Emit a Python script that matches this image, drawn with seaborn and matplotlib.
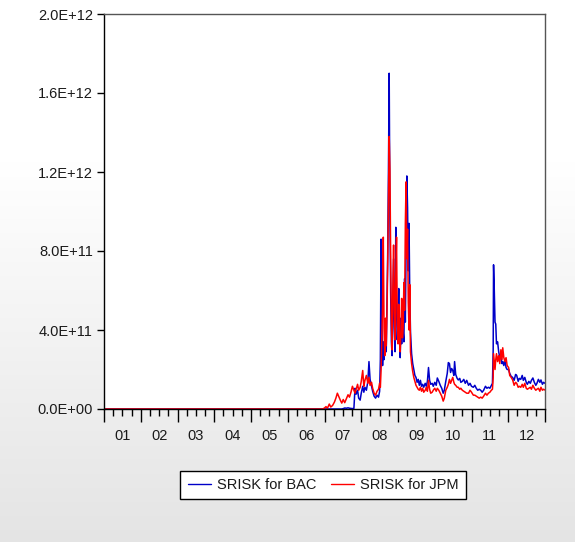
import numpy as np
import pandas as pd
import matplotlib
matplotlib.use("Agg")
import matplotlib.pyplot as plt
import seaborn as sns
from matplotlib import font_manager as fm
from matplotlib.lines import Line2D
from matplotlib.ticker import FixedLocator, NullFormatter
import matplotlib.transforms as mtransforms

# ---------------- data (values in units of 1e11) ----------------
dates = [
    2001.00, 2006.95, 2007.00, 2007.04, 2007.08, 2007.13, 2007.17, 2007.22, 2007.27, 2007.31,
    2007.35, 2007.39, 2007.43, 2007.47, 2007.51, 2007.55, 2007.60, 2007.64, 2007.68, 2007.72,
    2007.76, 2007.80, 2007.83, 2007.86, 2007.90, 2007.93, 2007.97, 2008.00, 2008.04, 2008.07,
    2008.10, 2008.14, 2008.18, 2008.21, 2008.24, 2008.28, 2008.31, 2008.35, 2008.39, 2008.43,
    2008.47, 2008.50, 2008.52, 2008.54, 2008.56, 2008.58, 2008.60, 2008.62, 2008.64, 2008.66,
    2008.68, 2008.70, 2008.72, 2008.74, 2008.76, 2008.78, 2008.80, 2008.82, 2008.84, 2008.86,
    2008.88, 2008.90, 2008.92, 2008.94, 2008.96, 2008.98, 2009.00, 2009.02, 2009.04, 2009.06,
    2009.08, 2009.10, 2009.12, 2009.14, 2009.16, 2009.18, 2009.20, 2009.22, 2009.24, 2009.26,
    2009.28, 2009.30, 2009.32, 2009.34, 2009.37, 2009.40, 2009.43, 2009.46, 2009.49, 2009.52,
    2009.55, 2009.58, 2009.61, 2009.64, 2009.67, 2009.70, 2009.74, 2009.77, 2009.80, 2009.83,
    2009.86, 2009.89, 2009.93, 2009.96, 2010.00, 2010.04, 2010.07, 2010.11, 2010.15, 2010.19,
    2010.23, 2010.26, 2010.30, 2010.34, 2010.37, 2010.40, 2010.43, 2010.46, 2010.49, 2010.52,
    2010.54, 2010.57, 2010.61, 2010.64, 2010.68, 2010.71, 2010.75, 2010.79, 2010.83, 2010.87,
    2010.92, 2010.96, 2011.00, 2011.05, 2011.09, 2011.13, 2011.17, 2011.21, 2011.25, 2011.29,
    2011.33, 2011.38, 2011.42, 2011.46, 2011.50, 2011.54, 2011.57, 2011.59, 2011.60, 2011.62,
    2011.64, 2011.66, 2011.68, 2011.71, 2011.74, 2011.77, 2011.80, 2011.83, 2011.85, 2011.88,
    2011.91, 2011.94, 2011.97, 2012.01, 2012.04, 2012.08, 2012.12, 2012.16, 2012.20, 2012.23,
    2012.27, 2012.30, 2012.34, 2012.38, 2012.41, 2012.45, 2012.49, 2012.52, 2012.56, 2012.60,
    2012.63, 2012.67, 2012.71, 2012.75, 2012.78, 2012.82, 2012.86, 2012.89, 2012.93, 2012.96,
    2013.00,
]

srisk_bac = [
    0, 0, 0, 0, 0, 0, 0, 0, 0, 0,
    0, 0, 0, 0, 0.02, 0.05, 0.04, 0.06, 0.04, 0.03,
    0.02, 0.03, 1.05, 0.75, 0.95, 0.55, 0.45, 0.80, 1.15, 0.85,
    1.10, 0.95, 1.40, 2.40, 1.50, 1.15, 0.90, 0.65, 0.55, 0.70,
    0.60, 0.90, 2.50, 8.60, 4.60, 2.20, 3.40, 2.50, 3.10, 4.20,
    2.90, 5.40, 7.90, 12.0, 17.0, 9.80, 5.90, 3.40, 2.70, 5.30,
    7.60, 4.10, 2.90, 9.20, 5.10, 3.50, 4.30, 6.10, 3.70, 2.60,
    4.60, 3.30, 5.40, 3.90, 3.40, 6.60, 4.40, 8.10, 11.8, 10.2,
    7.00, 9.40, 5.80, 3.90, 2.80, 2.30, 2.00, 1.70, 1.60, 1.35,
    1.50, 1.20, 1.45, 1.15, 1.25, 1.10, 1.30, 1.15, 1.40, 2.10,
    1.45, 1.25, 1.30, 1.15, 1.35, 1.20, 1.57, 1.40, 1.20, 1.05,
    0.80, 0.95, 1.40, 1.80, 2.35, 2.30, 1.85, 2.05, 1.95, 1.70,
    2.40, 1.75, 1.55, 1.47, 1.55, 1.35, 1.40, 1.50, 1.30, 1.45,
    1.20, 1.30, 1.15, 1.10, 1.20, 1.05, 0.95, 1.00, 0.95, 0.85,
    0.95, 1.15, 1.05, 1.10, 1.05, 1.20, 1.30, 3.00, 7.30, 6.00,
    4.40, 4.30, 3.30, 3.40, 2.90, 2.60, 2.60, 2.30, 2.40, 2.20,
    2.50, 2.10, 2.00, 2.00, 1.80, 1.65, 1.60, 1.45, 1.75, 1.70,
    1.40, 1.55, 1.50, 1.70, 1.45, 1.60, 1.35, 1.25, 1.40, 1.30,
    1.45, 1.57, 1.35, 1.20, 1.30, 1.50, 1.35, 1.47, 1.25, 1.35,
    1.30,
]

srisk_jpm = [
    0, 0, 0.05, 0.12, 0.04, 0.25, 0.10, 0.18, 0.35, 0.55,
    0.80, 0.62, 0.45, 0.30, 0.48, 0.32, 0.55, 0.72, 0.60, 0.85,
    1.15, 0.95, 0.80, 1.00, 1.25, 0.95, 1.10, 1.40, 1.95, 1.15,
    1.45, 1.70, 1.30, 1.60, 1.20, 1.35, 1.05, 0.80, 0.70, 0.90,
    1.00, 1.30, 1.10, 2.00, 3.60, 5.20, 8.70, 4.10, 2.70, 4.60,
    3.20, 4.90, 7.30, 10.5, 13.8, 12.1, 7.80, 4.40, 3.00, 6.10,
    8.30, 5.00, 3.50, 6.80, 8.70, 4.40, 3.30, 5.30, 3.40, 2.90,
    4.00, 5.60, 3.60, 4.10, 6.40, 5.00, 9.40, 11.5, 7.60, 9.10,
    5.40, 4.00, 6.30, 2.90, 2.30, 1.90, 1.60, 1.40, 1.20, 1.10,
    1.00, 0.95, 1.10, 0.90, 1.05, 0.85, 0.95, 1.10, 0.90, 1.45,
    1.00, 0.80, 0.85, 0.95, 1.05, 0.90, 1.05, 0.95, 0.80, 0.65,
    0.40, 0.55, 0.95, 1.10, 1.25, 1.50, 1.30, 1.45, 1.60, 1.35,
    1.25, 1.20, 1.10, 1.10, 1.00, 1.05, 0.95, 0.90, 0.85, 0.80,
    0.80, 0.95, 0.85, 0.70, 0.70, 0.65, 0.60, 0.55, 0.60, 0.55,
    0.65, 0.80, 0.70, 0.80, 0.85, 0.95, 1.00, 1.60, 2.80, 2.40,
    2.00, 2.50, 2.80, 2.40, 2.70, 2.30, 3.00, 2.50, 3.10, 2.60,
    2.40, 2.60, 2.20, 2.10, 1.70, 1.60, 1.47, 1.20, 1.35, 1.30,
    1.10, 1.15, 1.10, 1.25, 1.10, 1.30, 1.05, 1.00, 1.05, 1.10,
    1.00, 1.20, 1.05, 0.95, 1.00, 1.05, 0.90, 1.10, 0.95, 1.00,
    0.96,
]

series_names = ["SRISK for BAC", "SRISK for JPM"]
series_colors = ["#0000c8", "#ff0000"]
ytick_values = [0.0, 4.0e11, 8.0e11, 1.2e12, 1.6e12, 2.0e12]
ytick_labels = ["0.0E+00", "4.0E+11", "8.0E+11", "1.2E+12", "1.6E+12", "2.0E+12"]
year_starts = list(range(2001, 2014))
xtick_labels = ["01", "02", "03", "04", "05", "06", "07", "08", "09", "10", "11", "12"]

# ---------------- style / fonts ----------------
sns.set_style("ticks")


def has_font(name):
    try:
        fm.findfont(fm.FontProperties(family=name), fallback_to_default=False)
        return True
    except Exception:
        return False


if has_font("Liberation Sans Narrow"):
    fam, fs = "Liberation Sans Narrow", 12
else:
    fam, fs = "Liberation Sans", 10.5
plt.rcParams["font.family"] = [fam, "DejaVu Sans"]

W, H = 575, 542
fig = plt.figure(figsize=(W / 100, H / 100), dpi=100)

# background gradient (white top -> light grey bottom)
bg = fig.add_axes([0, 0, 1, 1], zorder=-10)
rows = np.linspace(0, 1, 300)
shade = np.where(rows < 0.3, 1.0, 1.0 - (rows - 0.3) / 0.7 * 0.105)
grad = np.dstack([shade, shade, shade]).reshape(300, 1, 3)
grad = np.repeat(grad, 2, axis=1)
bg.imshow(grad, aspect="auto", extent=[0, 1, 0, 1], origin="upper")
bg.set_axis_off()

# main axes
L, R, T, B = 104, 545, 14, 409
ax = fig.add_axes([L / W, 1 - B / H, (R - L) / W, (B - T) / H])
ax.set_facecolor("white")

n = len(dates)
df = pd.DataFrame({
    "date": dates * 2,
    "value": np.array(srisk_bac + srisk_jpm, dtype=float) * 1e11,
    "series": [series_names[0]] * n + [series_names[1]] * n,
})
sns.lineplot(data=df, x="date", y="value", hue="series", hue_order=series_names,
             palette=dict(zip(series_names, series_colors)), estimator=None,
             linewidth=1.1, ax=ax, legend=False)

ax.set_xlim(2001, 2013)
ax.set_ylim(0, 2.0e12)
ax.set_xlabel("")
ax.set_ylabel("")

ax.yaxis.set_major_locator(FixedLocator(ytick_values))
ax.set_yticklabels(ytick_labels)
ax.xaxis.set_major_locator(FixedLocator(year_starts))
ax.xaxis.set_major_formatter(NullFormatter())
quarters = [y + q for y in year_starts[:-1] for q in (0.25, 0.5, 0.75)]
ax.xaxis.set_minor_locator(FixedLocator(quarters))
ax.xaxis.set_minor_formatter(NullFormatter())

ax.tick_params(axis="y", which="major", direction="out", length=5, width=1,
               color="black", pad=3, labelsize=fs, labelcolor="#1a1a1a", left=True)
ax.tick_params(axis="x", which="major", direction="out", length=9, width=1,
               color="black", bottom=True)
ax.tick_params(axis="x", which="minor", direction="out", length=5, width=1,
               color="black", bottom=True)

trans = mtransforms.blended_transform_factory(ax.transData, ax.transAxes)
for y0, lab in zip(year_starts[:-1], xtick_labels):
    ax.text(y0 + 0.5, -(436 - B) / (B - T), lab, transform=trans, ha="center",
            va="center", fontsize=fs, color="#1a1a1a")

for s in ("left", "bottom"):
    ax.spines[s].set_color("black")
    ax.spines[s].set_linewidth(1.0)
for s in ("top", "right"):
    ax.spines[s].set_visible(True)
    ax.spines[s].set_color("#555555")
    ax.spines[s].set_linewidth(1.0)

handles = [Line2D([], [], color=c, lw=1.0) for c in series_colors]
leg = fig.legend(handles, series_names, loc="center",
                 bbox_to_anchor=(323 / W, 1 - 485 / H), ncol=2, frameon=True,
                 fancybox=False, edgecolor="black", framealpha=1.0,
                 fontsize=fs, handlelength=1.6, handletextpad=0.4,
                 columnspacing=1.0, borderpad=0.5, borderaxespad=0)
leg.get_frame().set_linewidth(1.0)
for t in leg.get_texts():
    t.set_color("#1a1a1a")

fig.savefig("out.png", dpi=100)
